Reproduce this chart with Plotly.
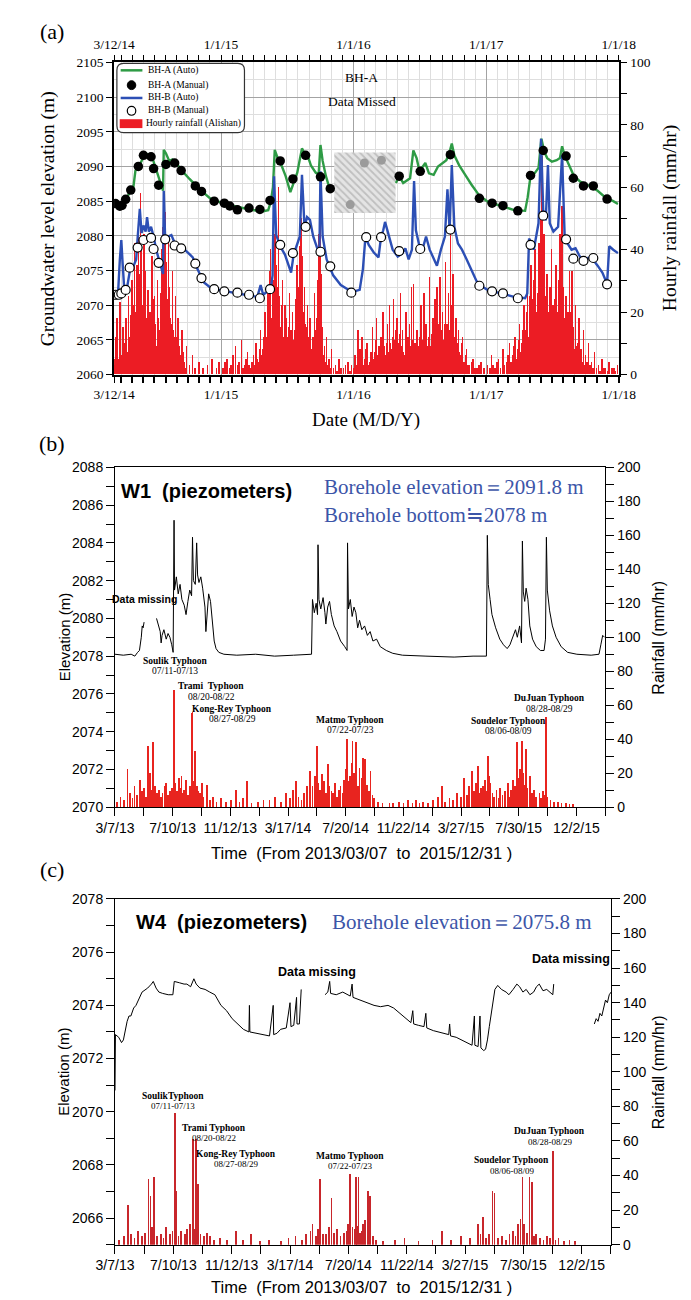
import pandas as pd
import plotly.graph_objects as go

W, H = 691, 1300
SERIF = "Liberation Serif, Times New Roman, serif"
SANS = "Liberation Sans, Arial, sans-serif"


def px(x):
    return x / W


def py(y):
    return 1 - y / H


# ===================== DATA =====================
# ---- panel (a): BH-A / BH-B, days counted from 2014-03-12 ----
A_START, A_END = "2014-03-12", "2018-01-01"
a_tick_dates = ["2014-03-12", "2015-01-01", "2016-01-01", "2017-01-01", "2018-01-01"]
a_tick_text = ["3/12/14", "1/1/15", "1/1/16", "1/1/17", "1/1/18"]

bha_auto = [(9, 2084.65), (22, 2084.5), (32, 2085.3), (43, 2086.2), (52, 2086.5), (59, 2089.4), (67, 2089.9),
            (74, 2090.5), (81, 2091.3), (91, 2091.8), (100, 2091.7), (109, 2090.7), (120, 2088.9), (130, 2087.2),
            (135, 2086.5), (137, 2092.4), (143, 2091.9), (152, 2090.8), (161, 2091.0), (174, 2090.3), (187, 2089.4),
            (208, 2088.2), (234, 2086.8), (265, 2085.4), (304, 2084.6), (339, 2084.2), (373, 2083.8), (408, 2083.5),
            (425, 2083.7), (432, 2084.9), (438, 2087.0), (443, 2092.4), (451, 2091.2), (462, 2090.1), (473, 2088.6),
            (486, 2086.3), (495, 2087.7), (505, 2089.1), (512, 2091.0), (518, 2092.6), (525, 2091.9), (534, 2091.5),
            (543, 2090.1), (556, 2089.1), (564, 2088.9), (569, 2093.1), (575, 2090.8), (584, 2088.6), (592, 2087.2),
            (597, 2086.8), (690, None), (777, 2087.6), (786, 2088.6), (797, 2087.6), (808, 2088.0), (816, 2088.3),
            (825, 2092.3), (834, 2091.2), (842, 2089.3), (851, 2090.0), (858, 2090.5), (868, 2089.0), (881, 2088.8),
            (893, 2090.0), (905, 2090.5), (916, 2090.9), (925, 2092.1), (931, 2093.3), (938, 2091.6), (951, 2090.2),
            (968, 2088.8), (985, 2087.4), (1007, 2085.8), (1033, 2084.8), (1068, 2084.3), (1103, 2083.7),
            (1133, 2083.6), (1140, 2085.5), (1148, 2088.6), (1159, 2089.0), (1170, 2089.8), (1178, 2094.0),
            (1186, 2092.1), (1194, 2091.2), (1207, 2090.7), (1220, 2090.9), (1229, 2091.2), (1235, 2092.9),
            (1242, 2091.6), (1255, 2090.0), (1268, 2088.6), (1285, 2087.8), (1311, 2087.2), (1333, 2086.5),
            (1355, 2085.5), (1376, 2085.0), (1389, 2084.6)]

bha_manual = [(4, 2084.65), (16, 2084.27), (22, 2084.4), (32, 2085.26), (46, 2086.6), (67, 2090.0), (81, 2091.6),
              (102, 2091.4), (109, 2089.7), (123, 2087.3), (143, 2090.3), (167, 2090.5), (185, 2089.4),
              (224, 2087.2), (241, 2086.4), (276, 2085.0), (304, 2084.7), (319, 2084.3), (340, 2083.75),
              (372, 2084.0), (402, 2083.8), (430, 2085.1), (458, 2090.8), (493, 2088.2), (528, 2091.6),
              (569, 2088.5), (596, 2086.8), (786, 2088.6), (844, 2089.3), (927, 2091.7), (1007, 2085.4),
              (1042, 2084.7), (1072, 2084.35), (1113, 2083.6), (1148, 2088.7), (1183, 2092.3), (1246, 2091.5),
              (1266, 2088.3), (1294, 2087.2), (1321, 2087.2), (1359, 2085.3)]

bha_missing_manual = [(651, 2084.5), (690, 2090.5), (737, 2090.9)]
bha_missing_period = ("2015-11-09", "2016-04-26")
bha_missing_band = (2083.3, 2092.0)

bhb_auto = [(4, 2071.5), (11, 2071.7), (16, 2076.6), (20, 2079.4), (23, 2076.6), (28, 2072.4), (36, 2072.6),
            (45, 2075.4), (54, 2075.7), (61, 2076.6), (65, 2079.7), (71, 2083.9), (76, 2080.4), (81, 2081.5),
            (87, 2080.6), (91, 2082.7), (96, 2080.6), (102, 2081.3), (109, 2079.9), (117, 2077.8), (126, 2076.2),
            (135, 2074.5), (137, 2086.5), (141, 2079.4), (149, 2079.9), (158, 2080.1), (167, 2079.0),
            (176, 2078.5), (187, 2078.4), (200, 2077.8), (217, 2076.9), (230, 2075.2), (247, 2073.3),
            (269, 2072.4), (304, 2072.0), (339, 2071.7), (373, 2071.4), (395, 2071.2), (404, 2072.9),
            (411, 2071.5), (421, 2071.9), (432, 2072.4), (437, 2074.3), (441, 2088.6), (447, 2080.1),
            (458, 2078.5), (471, 2077.3), (482, 2075.7), (488, 2074.7), (495, 2077.3), (505, 2079.0),
            (512, 2079.9), (518, 2088.8), (525, 2081.3), (532, 2082.7), (540, 2082.3), (549, 2079.9),
            (560, 2078.0), (566, 2077.3), (569, 2089.3), (575, 2079.9), (586, 2076.6), (604, 2074.3),
            (625, 2072.9), (656, 2071.9), (677, 2072.2), (686, 2075.2), (693, 2079.9), (702, 2078.7),
            (716, 2077.6), (729, 2076.9), (736, 2079.9), (742, 2080.8), (747, 2082.0), (754, 2080.6),
            (768, 2078.0), (782, 2077.0), (795, 2077.5), (803, 2078.2), (812, 2076.6), (821, 2078.0),
            (827, 2087.9), (832, 2080.8), (841, 2078.7), (849, 2077.8), (860, 2079.9), (870, 2078.0),
            (881, 2076.6), (890, 2075.7), (901, 2078.0), (912, 2079.9), (919, 2086.7), (925, 2080.8),
            (931, 2090.2), (938, 2081.3), (948, 2078.9), (959, 2078.0), (972, 2076.6), (985, 2075.2),
            (999, 2073.5), (1007, 2072.9), (1033, 2072.1), (1068, 2071.7), (1103, 2071.2), (1133, 2071.0),
            (1139, 2071.7), (1144, 2079.6), (1151, 2078.9), (1157, 2078.0), (1164, 2080.3), (1170, 2081.8),
            (1177, 2094.0), (1183, 2083.6), (1190, 2082.2), (1196, 2090.2), (1201, 2081.8), (1211, 2080.6),
            (1224, 2081.3), (1235, 2091.6), (1242, 2080.1), (1250, 2078.9), (1261, 2078.0), (1272, 2078.2),
            (1281, 2077.3), (1294, 2076.1), (1307, 2076.8), (1321, 2076.5), (1333, 2075.7), (1346, 2074.7),
            (1359, 2073.1), (1365, 2078.5), (1376, 2078.0), (1389, 2077.5)]

bhb_manual = [(4, 2071.5), (13, 2071.5), (20, 2071.7), (32, 2072.2), (43, 2075.4), (65, 2078.3), (81, 2079.4),
              (102, 2079.7), (109, 2078.1), (123, 2076.1), (141, 2079.5), (167, 2078.6), (185, 2078.2),
              (224, 2076.0), (241, 2073.9), (276, 2072.3), (304, 2072.0), (340, 2071.8), (372, 2071.5),
              (402, 2071.0), (430, 2072.3), (458, 2078.7), (493, 2077.5), (528, 2081.3), (569, 2077.7),
              (596, 2075.6), (654, 2071.8), (695, 2079.8), (736, 2079.8), (786, 2077.8), (844, 2078.1),
              (927, 2080.9), (1007, 2072.8), (1042, 2072.0), (1072, 2071.7), (1113, 2071.0), (1148, 2078.7),
              (1183, 2082.9), (1246, 2079.5), (1266, 2076.7), (1294, 2076.4), (1321, 2076.8), (1359, 2073.0)]

# hourly rainfall at Alishan (mm/hr), days from 2014-03-12
rain_a_2014 = [(0, 3), (2, 5), (4, 8), (6, 12), (8, 18), (10, 4), (12, 5), (15, 9), (17, 23), (19, 6), (22, 4),
               (25, 15), (27, 10), (29, 3), (31, 6), (33, 18), (35, 14), (38, 7), (40, 25), (42, 12), (44, 8),
               (47, 19), (49, 30), (51, 6), (53, 12), (55, 22), (57, 42), (59, 15), (60, 20), (62, 26), (64, 35),
               (66, 18), (67, 50), (69, 32), (70, 28), (72, 14), (73, 58), (75, 24), (76, 40), (78, 12), (79, 22),
               (81, 30), (82, 45), (84, 16), (86, 33), (88, 10), (90, 18), (92, 14), (94, 27), (96, 20), (98, 12),
               (100, 8), (101, 20), (103, 11), (105, 38), (107, 24), (108, 15), (110, 9), (112, 25), (114, 16),
               (116, 9), (118, 6), (120, 30), (122, 18), (124, 14), (126, 8), (128, 22), (130, 26), (132, 40),
               (134, 18), (135, 47), (137, 22), (138, 30), (140, 14), (141, 52), (143, 28), (144, 36), (146, 12),
               (147, 20), (149, 24), (150, 44), (152, 10), (153, 28), (155, 18), (157, 16), (159, 8), (161, 33),
               (163, 14), (165, 12), (167, 6), (169, 25), (171, 12), (173, 8), (175, 5), (177, 18), (180, 9),
               (182, 6), (185, 3), (187, 14), (190, 7), (193, 4), (196, 2), (200, 9), (208, 3), (216, 6), (224, 2),
               (235, 4), (246, 2), (258, 3), (270, 5), (282, 2), (290, 4)]
rain_a_2015 = [(300, 2), (306, 4), (312, 5), (318, 2), (322, 3), (328, 6), (335, 9), (340, 3), (345, 4), (352, 11),
               (356, 2), (360, 3), (364, 5), (368, 7), (372, 3), (376, 2), (380, 4), (384, 6), (388, 3), (392, 10),
               (395, 5), (398, 4), (401, 8), (404, 14), (407, 6), (410, 8), (413, 12), (416, 20), (419, 9),
               (421, 12), (423, 16), (425, 26), (427, 10), (429, 33), (431, 18), (432, 40), (434, 12), (435, 18),
               (437, 24), (438, 30), (440, 14), (441, 22), (443, 28), (444, 45), (446, 16), (447, 35), (449, 20),
               (450, 28), (452, 12), (453, 60), (455, 18), (456, 25), (458, 10), (460, 15), (462, 22), (464, 30),
               (466, 9), (468, 12), (470, 17), (472, 22), (474, 8), (476, 18), (478, 12), (480, 10), (482, 15),
               (484, 26), (486, 9), (488, 14), (490, 7), (492, 20), (494, 11), (496, 8), (498, 14), (500, 24),
               (502, 16), (504, 35), (506, 20), (508, 12), (510, 28), (512, 41), (514, 22), (515, 50), (517, 30),
               (518, 38), (520, 15), (521, 20), (523, 12), (525, 28), (527, 16), (529, 15), (531, 9), (533, 22),
               (535, 12), (537, 10), (539, 6), (541, 18), (543, 8), (545, 7), (547, 11), (549, 12), (551, 6),
               (553, 26), (555, 10), (557, 14), (559, 18), (561, 30), (563, 20), (565, 45), (567, 24), (568, 58),
               (570, 20), (571, 32), (573, 12), (575, 15), (578, 6), (580, 9), (583, 4), (586, 12), (590, 3),
               (592, 5), (596, 2), (600, 8), (605, 2), (610, 3), (615, 1), (620, 5), (626, 2), (632, 2), (638, 3),
               (645, 4), (650, 1), (655, 3)]
rain_a_2016 = [(662, 2), (665, 6), (668, 3), (672, 14), (675, 5), (678, 8), (681, 4), (684, 12), (687, 3), (690, 5),
               (694, 8), (697, 10), (700, 3), (704, 4), (708, 7), (712, 15), (715, 5), (718, 7), (721, 11),
               (724, 18), (727, 6), (730, 9), (733, 5), (736, 12), (739, 8), (742, 20), (745, 9), (748, 6),
               (751, 10), (754, 16), (757, 7), (760, 22), (762, 10), (765, 8), (768, 12), (770, 24), (772, 7),
               (775, 11), (778, 14), (780, 18), (782, 6), (785, 10), (788, 13), (790, 26), (792, 9), (795, 14),
               (798, 7), (800, 6), (803, 11), (805, 20), (807, 8), (810, 12), (813, 6), (815, 16), (818, 9),
               (820, 28), (823, 11), (826, 29), (828, 8), (830, 10), (833, 5), (835, 14), (838, 9), (840, 7),
               (843, 12), (846, 22), (848, 7), (850, 11), (853, 14), (855, 26), (858, 9), (860, 16), (863, 6),
               (865, 9), (868, 12), (870, 31), (872, 9), (875, 13), (878, 7), (880, 18), (883, 11), (885, 24),
               (888, 8), (890, 28), (892, 12), (894, 10), (896, 16), (898, 31), (900, 9), (902, 14), (904, 7),
               (906, 20), (908, 11), (910, 8), (912, 16), (914, 36), (916, 12), (918, 16), (920, 9), (922, 26),
               (924, 14), (927, 47), (929, 18), (930, 22), (932, 11), (934, 32), (936, 14), (938, 12), (940, 7),
               (942, 18), (944, 9), (946, 10), (948, 6), (950, 14), (952, 7), (955, 6), (958, 10), (960, 12),
               (963, 4), (966, 4), (969, 6), (972, 8), (976, 3), (980, 3), (985, 4), (990, 5), (995, 2),
               (1000, 2), (1006, 3), (1012, 4), (1018, 1), (1020, 2)]
rain_a_2017 = [(1030, 3), (1036, 2), (1040, 6), (1045, 3), (1050, 2), (1055, 4), (1060, 5), (1066, 2), (1072, 8),
               (1077, 3), (1082, 4), (1086, 6), (1090, 10), (1094, 4), (1098, 6), (1102, 9), (1106, 12), (1109, 5),
               (1112, 8), (1115, 11), (1118, 16), (1121, 7), (1124, 10), (1127, 14), (1130, 22), (1132, 9),
               (1135, 14), (1137, 20), (1140, 28), (1142, 12), (1145, 18), (1147, 25), (1150, 35), (1152, 15),
               (1155, 24), (1157, 30), (1160, 40), (1162, 18), (1165, 20), (1167, 26), (1170, 30), (1172, 42),
               (1175, 50), (1177, 30), (1178, 62), (1179, 45), (1180, 70), (1182, 28), (1183, 38), (1185, 22),
               (1186, 45), (1188, 18), (1190, 25), (1192, 14), (1194, 32), (1196, 20), (1198, 18), (1200, 12),
               (1202, 28), (1204, 16), (1206, 40), (1208, 20), (1210, 22), (1212, 10), (1214, 15), (1216, 24),
               (1218, 35), (1220, 14), (1222, 20), (1224, 12), (1226, 30), (1228, 18), (1230, 45), (1232, 22),
               (1235, 54), (1237, 20), (1238, 28), (1240, 12), (1242, 18), (1244, 9), (1246, 25), (1248, 14),
               (1250, 12), (1252, 20), (1255, 33), (1257, 12), (1260, 20), (1262, 14), (1263, 33), (1265, 10),
               (1267, 15), (1270, 8), (1272, 22), (1275, 9), (1277, 10), (1280, 6), (1282, 18), (1285, 5),
               (1288, 8), (1291, 4), (1294, 14), (1297, 3), (1300, 6), (1304, 4), (1308, 10), (1312, 3), (1316, 4),
               (1320, 2), (1325, 7), (1330, 2), (1335, 3), (1340, 1), (1345, 5), (1350, 2), (1355, 2), (1360, 1),
               (1365, 4), (1372, 2), (1378, 2), (1383, 1), (1388, 3)]

# ---- panels (b) and (c): W1 / W4, days counted from 2013-03-07 ----
B_START, B_END = "2013-03-07", "2016-02-03"
bc_tick_text = ["3/7/13", "7/10/13", "11/12/13", "3/17/14", "7/20/14", "11/22/14", "3/27/15", "7/30/15", "12/2/15"]

w1_level = [(0, 2078.1), (18, 2078.05), (35, 2078.1), (43, 2078.0), (49, 2078.2), (53, 2078.3), (57, 2079.0),
            (59, 2079.6), (61, 2079.5), (63, 2079.8), (76, None), (90, 2080.0), (94, 2079.6), (98, 2079.3),
            (100, 2078.7), (102, 2079.1), (106, 2079.4), (111, 2078.9), (115, 2079.2), (119, 2079.0),
            (123, 2078.6), (126, 2078.2), (128, 2085.2), (129, 2081.5), (133, 2082.2), (137, 2081.3),
            (141, 2081.8), (145, 2081.0), (150, 2080.7), (154, 2080.2), (158, 2080.9), (162, 2081.5),
            (166, 2081.2), (168, 2084.3), (170, 2082.0), (174, 2081.8), (177, 2084.0), (179, 2082.3),
            (182, 2081.9), (186, 2082.2), (190, 2081.6), (195, 2080.6), (197, 2079.3), (199, 2080.2),
            (203, 2081.3), (207, 2080.9), (211, 2079.8), (215, 2078.8), (219, 2078.4), (225, 2078.2),
            (236, 2078.1), (264, 2078.05), (305, 2078.1), (346, 2078.0), (387, 2078.05), (426, 2078.1),
            (428, 2081.0), (432, 2080.3), (436, 2080.8), (439, 2080.2), (440, 2083.9), (442, 2081.0),
            (446, 2080.5), (451, 2081.1), (455, 2080.3), (457, 2079.7), (461, 2080.6), (465, 2080.9),
            (469, 2080.2), (475, 2079.6), (481, 2079.3), (489, 2078.8), (498, 2078.5), (503, 2078.3),
            (504, 2084.0), (506, 2080.5), (510, 2081.0), (514, 2080.1), (518, 2080.6), (522, 2080.3),
            (526, 2079.5), (530, 2079.9), (535, 2079.4), (541, 2079.6), (547, 2079.1), (553, 2079.3),
            (559, 2078.8), (567, 2078.9), (575, 2078.5), (588, 2078.3), (602, 2078.15), (623, 2078.05),
            (674, 2078.0), (735, 2077.95), (776, 2078.0), (805, 2078.0), (807, 2084.4), (809, 2081.8),
            (813, 2081.0), (817, 2080.2), (825, 2079.5), (834, 2078.9), (842, 2078.6), (850, 2078.4),
            (856, 2078.6), (862, 2079.0), (868, 2079.4), (872, 2079.0), (877, 2079.6), (881, 2078.7),
            (883, 2084.1), (885, 2081.4), (888, 2080.9), (891, 2081.6), (895, 2081.0), (899, 2079.6),
            (905, 2078.9), (913, 2078.5), (922, 2078.3), (930, 2078.3), (933, 2078.9), (935, 2084.3),
            (937, 2081.5), (942, 2080.4), (948, 2079.6), (956, 2079.0), (967, 2078.5), (981, 2078.2),
            (1001, 2078.1), (1032, 2078.05), (1049, 2078.1), (1053, 2078.6), (1057, 2079.1), (1061, 2079.0)]

rain_b = [(5, 3), (12, 6), (20, 4), (27, 22), (33, 8), (38, 5), (42, 12), (47, 7), (54, 16), (58, 9), (63, 11),
          (67, 6), (71, 36), (74, 14), (76, 20), (80, 10), (83, 38), (87, 12), (91, 8), (95, 10), (99, 6), (103, 8),
          (107, 12), (111, 14), (115, 7), (119, 9), (123, 11), (128, 69), (131, 14), (135, 9), (138, 17), (141, 11),
          (144, 18), (147, 8), (150, 10), (154, 16), (158, 7), (162, 12), (166, 55), (168, 56), (171, 15),
          (174, 33), (177, 12), (180, 9), (184, 8), (188, 14), (192, 6), (199, 13), (206, 4), (213, 6), (220, 3),
          (229, 5), (240, 3), (252, 4), (262, 10), (270, 3), (278, 5), (286, 15), (296, 2),
          (310, 3), (322, 4), (335, 4), (347, 6), (359, 3), (370, 8), (379, 5), (386, 10), (392, 15), (398, 6),
          (404, 4), (410, 8), (416, 12), (423, 21), (428, 12), (433, 18), (438, 36), (441, 14), (444, 10),
          (448, 19), (453, 15), (457, 8), (461, 25), (465, 12), (469, 9), (473, 8), (477, 14), (481, 6), (485, 10),
          (489, 12), (493, 8), (497, 16), (500, 22), (503, 40), (506, 15), (510, 18), (513, 26), (515, 39),
          (518, 20), (521, 14), (523, 38), (526, 12), (530, 23), (534, 17), (538, 29), (542, 28), (546, 13),
          (550, 9), (554, 21), (558, 7), (562, 5), (570, 3), (580, 2), (595, 2), (603, 2), (615, 3), (625, 2),
          (635, 4), (645, 2), (652, 4), (660, 2),
          (668, 3), (678, 2), (690, 4), (700, 6), (709, 12), (716, 3), (725, 5), (733, 4), (742, 8), (750, 6),
          (757, 17), (763, 7), (768, 12), (773, 21), (778, 9), (782, 14), (786, 24), (790, 8), (794, 11),
          (798, 12), (802, 16), (805, 9), (808, 30), (811, 18), (814, 14), (818, 8), (822, 6), (827, 10), (831, 5),
          (835, 11), (840, 7), (845, 9), (851, 14), (855, 6), (859, 10), (863, 16), (867, 12), (871, 38),
          (874, 17), (877, 22), (880, 15), (882, 39), (885, 20), (888, 13), (891, 34), (894, 11), (899, 18),
          (903, 8), (908, 10), (913, 6), (920, 8), (924, 5), (928, 9), (931, 7), (934, 53), (937, 6), (944, 4),
          (952, 3), (960, 3), (968, 2), (977, 2), (985, 1.5), (993, 1.5)]

w4_level = [(0, 2070.8), (1, 2072.9), (8, 2072.8), (14, 2072.6), (18, 2072.7), (22, 2073.1), (26, 2073.4),
            (30, 2073.6), (34, 2073.6), (40, 2073.9), (45, 2074.0), (58, 2074.5), (70, 2074.65), (78, 2074.8),
            (82, 2074.9), (88, 2074.65), (94, 2074.5), (102, 2074.45), (114, 2074.4), (124, 2074.4),
            (127, 2074.9), (138, 2074.85), (148, 2074.8), (154, 2074.8), (162, 2074.7), (169, 2075.0),
            (174, 2074.8), (182, 2074.65), (193, 2074.6), (203, 2074.5), (214, 2074.4), (227, 2074.0),
            (239, 2073.8), (251, 2073.5), (263, 2073.3), (275, 2073.1), (287, 2073.0), (288, 2074.0),
            (289, 2073.0), (303, 2072.95), (319, 2072.9), (331, 2072.85), (339, 2074.0), (340, 2072.9),
            (347, 2072.95), (355, 2073.1), (367, 2073.15), (375, 2074.1), (377, 2073.2), (383, 2073.25),
            (389, 2074.3), (390, 2073.3), (395, 2073.3), (399, 2074.6), (420, None),
            (450, 2074.4), (456, 2074.5), (460, 2074.9), (462, 2074.45), (474, 2074.4), (488, 2074.5),
            (504, 2074.35), (508, 2074.8), (510, 2074.3), (524, 2074.2), (541, 2074.1), (555, 2074.0),
            (569, 2073.95), (585, 2074.0), (597, 2073.9), (610, 2073.7), (622, 2073.5), (634, 2073.35),
            (638, 2073.8), (640, 2073.3), (650, 2073.25), (662, 2073.2), (666, 2073.7), (668, 2073.15),
            (682, 2073.05), (695, 2073.0), (703, 2072.95), (715, 2072.9), (717, 2073.3), (719, 2072.85),
            (731, 2072.8), (743, 2072.7), (755, 2072.6), (765, 2072.5), (770, 2073.6), (771, 2072.5),
            (778, 2072.45), (782, 2073.6), (784, 2072.4), (790, 2072.3), (794, 2072.35), (798, 2072.7),
            (802, 2073.2), (806, 2073.7), (810, 2074.1), (814, 2074.6), (820, 2074.75), (828, 2074.6),
            (838, 2074.5), (844, 2074.4), (853, 2074.6), (861, 2074.8), (867, 2074.7), (874, 2074.5),
            (881, 2074.6), (889, 2074.4), (897, 2074.5), (903, 2074.7), (909, 2074.8), (917, 2074.55),
            (925, 2074.6), (932, 2074.5), (938, 2074.4), (940, 2074.8), (980, None),
            (1027, 2073.3), (1031, 2073.5), (1035, 2073.4), (1039, 2073.7), (1043, 2073.6), (1047, 2073.9),
            (1051, 2074.2), (1055, 2074.1), (1059, 2074.4), (1063, 2074.5)]

rain_c = [(8, 3), (20, 5), (28, 23), (35, 6), (42, 4), (50, 8), (58, 5), (65, 7), (72, 38), (76, 28), (80, 10),
          (84, 39), (90, 5), (98, 6), (104, 4), (110, 10), (118, 6), (123, 8), (128, 76), (130, 31), (136, 5),
          (142, 8), (150, 6), (155, 9), (160, 12), (167, 61), (171, 9), (174, 61), (178, 35), (183, 6), (190, 5),
          (197, 7), (203, 5), (212, 3), (225, 4), (240, 3), (259, 8), (275, 3), (291, 6), (310, 2), (330, 3),
          (355, 2), (372, 4), (387, 5), (400, 3), (410, 6), (419, 8), (423, 12), (430, 5), (435, 9), (439, 38),
          (445, 6), (452, 6), (458, 10), (464, 27), (470, 7), (476, 9), (483, 5), (490, 7), (496, 8), (500, 12),
          (504, 41), (509, 10), (513, 9), (516, 39), (519, 11), (522, 39), (525, 7), (528, 8), (532, 12),
          (536, 14), (542, 31), (546, 28), (552, 5), (560, 3), (575, 2), (600, 3), (620, 4), (650, 2), (680, 3),
          (701, 8), (720, 3), (741, 5), (760, 4), (777, 12), (783, 6), (789, 16), (795, 4), (801, 6), (809, 31),
          (813, 30), (820, 4), (829, 5), (838, 3), (845, 6), (853, 8), (858, 5), (863, 12), (869, 15), (873, 39),
          (877, 12), (882, 7), (888, 39), (893, 36), (897, 5), (902, 6), (910, 4), (918, 3), (926, 5), (932, 4),
          (938, 54), (944, 3), (950, 4), (962, 2), (974, 3), (985, 2)]

typhoons_b = [("Soulik Typhoon", "07/11-07/13"), ("Trami\u00a0 Typhoon", "08/20-08/22"),
              ("Kong-Rey Typhoon", "08/27-08/29"), ("Matmo Typhoon", "07/22-07/23"),
              ("Soudelor Typhoon", "08/06-08/09"), ("DuJuan Typhoon", "08/28-08/29")]
typhoons_c = [("SoulikTyphoon", "07/11-07/13"), ("Trami Typhoon", "08/20-08/22"),
              ("Kong-Rey Typhoon", "08/27-08/29"), ("Matmo Typhoon", "07/22-07/23"),
              ("Soudelor Typhoon", "08/06-08/09"), ("DuJuan Typhoon", "08/28-08/29")]


# ===================== HELPERS =====================
def to_dates(start, days):
    t0 = pd.Timestamp(start)
    return [t0 + pd.Timedelta(days=d) for d in days]


def split(pairs):
    return [p[0] for p in pairs], [p[1] for p in pairs]


DAY_MS = 86400000
GREEN = "#2e9b45"
BLUE = "#2c4fb5"
RED = "#ec1c24"
TXTBLUE = "#3c55a8"

fig = go.Figure()

# ---------- panel (a) ----------
rain_a = rain_a_2014 + rain_a_2015 + rain_a_2016 + rain_a_2017
d, v = split(rain_a)
fig.add_trace(go.Bar(x=to_dates(A_START, d), y=v, width=1.5 * DAY_MS, marker=dict(color=RED, line=dict(width=0)),
                     xaxis="x", yaxis="y2", name="Hourly rainfall (Alishan)"))

m0, m1 = bha_missing_period
b0, b1 = bha_missing_band
fig.add_trace(go.Scatter(x=[m0, m1, m1, m0, m0], y=[b0, b0, b1, b1, b0], mode="lines", fill="toself",
                         line=dict(width=0), fillcolor="rgba(0,0,0,0)",
                         fillpattern=dict(shape="\\", fgcolor="#9a9a9a", bgcolor="#e4e4e4", size=5, solidity=0.35),
                         xaxis="x", yaxis="y", hoverinfo="skip"))
d, v = split(bha_missing_manual)
fig.add_trace(go.Scatter(x=to_dates(A_START, d), y=v, mode="markers", marker=dict(size=9, color="#9b9b9b"),
                         xaxis="x", yaxis="y"))

d, v = split(bha_auto)
fig.add_trace(go.Scatter(x=to_dates(A_START, d), y=v, mode="lines", line=dict(color=GREEN, width=2.4),
                         connectgaps=False, xaxis="x", yaxis="y3", name="BH-A (Auto)"))
d, v = split(bhb_auto)
fig.add_trace(go.Scatter(x=to_dates(A_START, d), y=v, mode="lines", line=dict(color=BLUE, width=2.4),
                         xaxis="x", yaxis="y3", name="BH-B (Auto)"))
d, v = split(bha_manual)
fig.add_trace(go.Scatter(x=to_dates(A_START, d), y=v, mode="markers", marker=dict(size=9.5, color="black"),
                         xaxis="x", yaxis="y3", name="BH-A (Manual)"))
d, v = split(bhb_manual)
fig.add_trace(go.Scatter(x=to_dates(A_START, d), y=v, mode="markers",
                         marker=dict(size=9, color="white", line=dict(color="black", width=1.2)),
                         xaxis="x", yaxis="y3", name="BH-B (Manual)"))
# carrier for the top date axis
fig.add_trace(go.Scatter(x=[A_START, A_END], y=[None, None], mode="lines", xaxis="x4", yaxis="y",
                         hoverinfo="skip"))

# ---------- panel (b) ----------
d, v = split(rain_b)
fig.add_trace(go.Bar(x=to_dates(B_START, d), y=v, width=1.6 * DAY_MS, marker=dict(color="#e8241f", line=dict(width=0)),
                     xaxis="x2", yaxis="y5"))
d, v = split(w1_level)
fig.add_trace(go.Scatter(x=to_dates(B_START, d), y=v, mode="lines", line=dict(color="black", width=1),
                         xaxis="x2", yaxis="y4"))

# ---------- panel (c) ----------
d, v = split(rain_c)
fig.add_trace(go.Bar(x=to_dates(B_START, d), y=v, width=1.6 * DAY_MS, marker=dict(color="#c8262b", line=dict(width=0)),
                     xaxis="x3", yaxis="y7"))
d, v = split(w4_level)
fig.add_trace(go.Scatter(x=to_dates(B_START, d), y=v, mode="lines", line=dict(color="black", width=1),
                         xaxis="x3", yaxis="y6"))

# ===================== AXES =====================
bc_tick_dates = [pd.Timestamp(B_START) + pd.Timedelta(days=125 * k) for k in range(len(bc_tick_text))]
bc_minor = [pd.Timestamp(B_START) + pd.Timedelta(days=62.5 * k) for k in range(18)]

serif13 = dict(family=SERIF, size=13.5, color="black")
sans14 = dict(family=SANS, size=14, color="black")

xa_common = dict(type="date", range=[A_START, A_END], tickmode="array", tickvals=a_tick_dates,
                 ticktext=a_tick_text, tickfont=serif13, zeroline=False)
fig.update_layout(
    xaxis=dict(**xa_common, domain=[px(90), px(624)], anchor="y", ticks="outside", ticklen=7, tickwidth=1,
               tickcolor="black", showline=True, linecolor="black", linewidth=1.5,
               showgrid=True, gridcolor="#a3a3a3", gridwidth=1,
               minor=dict(dtick="M1", tick0="2014-01-01", ticks="outside", ticklen=7, tickwidth=2.2,
                          tickcolor="black", showgrid=True, gridcolor="#dedede", gridwidth=1)),
    xaxis4=dict(**xa_common, overlaying="x", side="top", anchor="y", ticks="outside", ticklen=6,
                tickcolor="black", showline=True, linecolor="black", linewidth=1.5, showgrid=False,
                minor=dict(dtick="M1", tick0="2014-01-01", ticks="outside", ticklen=6, tickwidth=1,
                           tickcolor="black", showgrid=False)),
    yaxis=dict(domain=[py(363), py(47)], anchor="x", range=[2060, 2105], dtick=5, tick0=2060,
               ticks="outside", ticklen=6, tickcolor="black", showline=True, linecolor="black", linewidth=1.5,
               showgrid=True, gridcolor="#a3a3a3", gridwidth=1, zeroline=False, tickfont=serif13,
               minor=dict(dtick=2.5, tick0=2060, showgrid=True, gridcolor="#dedede", ticks="")),
    yaxis2=dict(overlaying="y", side="right", anchor="x", range=[0, 100], dtick=20, ticks="outside", ticklen=7,
                tickcolor="black", showline=True, linecolor="black", linewidth=1.5, showgrid=False,
                zeroline=False, tickfont=serif13,
                minor=dict(dtick=10, ticks="outside", ticklen=7, tickcolor="black")),
    yaxis3=dict(overlaying="y", anchor="x", range=[2060, 2105], visible=False),

    xaxis2=dict(type="date", domain=[px(91), px(610)], anchor="y4", range=[B_START, B_END], tickmode="array",
                tickvals=bc_tick_dates, ticktext=bc_tick_text, ticks="outside", ticklen=8, tickcolor="black",
                showline=True, mirror=True, linecolor="black", linewidth=1, showgrid=False, zeroline=False,
                tickfont=sans14,
                minor=dict(tickmode="array", tickvals=bc_minor, ticks="outside", ticklen=8, tickcolor="black")),
    yaxis4=dict(domain=[py(801), py(457)], anchor="x2", range=[2070, 2088], dtick=2, tick0=2070,
                ticks="outside", ticklen=8, tickcolor="black", showline=True, linecolor="black", linewidth=1,
                showgrid=False, zeroline=False, tickfont=sans14,
                minor=dict(dtick=1, ticks="outside", ticklen=8, tickcolor="black")),
    yaxis5=dict(overlaying="y4", side="right", anchor="x2", range=[0, 200], dtick=20, ticks="outside",
                ticklen=8, tickcolor="black", showline=True, linecolor="black", linewidth=1, showgrid=False,
                zeroline=False, tickfont=sans14,
                minor=dict(dtick=10, ticks="outside", ticklen=8, tickcolor="black")),

    xaxis3=dict(type="date", domain=[px(91), px(616)], anchor="y6", range=[B_START, B_END], tickmode="array",
                tickvals=bc_tick_dates, ticktext=bc_tick_text, ticks="outside", ticklen=8, tickcolor="black",
                showline=True, mirror=True, linecolor="black", linewidth=1, showgrid=False, zeroline=False,
                tickfont=sans14,
                minor=dict(tickmode="array", tickvals=bc_minor, ticks="outside", ticklen=8, tickcolor="black")),
    yaxis6=dict(domain=[py(1244), py(894)], anchor="x3", range=[2065, 2078], dtick=2, tick0=2066,
                ticks="outside", ticklen=8, tickcolor="black", showline=True, linecolor="black", linewidth=1,
                showgrid=False, zeroline=False, tickfont=sans14,
                minor=dict(dtick=1, tick0=2065, ticks="outside", ticklen=8, tickcolor="black")),
    yaxis7=dict(overlaying="y6", side="right", anchor="x3", range=[0, 200], dtick=20, ticks="outside",
                ticklen=8, tickcolor="black", showline=True, linecolor="black", linewidth=1, showgrid=False,
                zeroline=False, tickfont=sans14,
                minor=dict(dtick=10, ticks="outside", ticklen=8, tickcolor="black")),
)

# ===================== TEXT =====================
ann = []


def text(s, x, y, size, family=SERIF, color="black", xanchor="center", angle=0, yanchor="middle"):
    ann.append(dict(text=s, x=px(x), y=py(y), xref="paper", yref="paper", showarrow=False, xanchor=xanchor,
                    yanchor=yanchor, textangle=angle, font=dict(family=family, size=size, color=color)))


# panel labels
text("(a)", 24, 16, 22)
text("(b)", 24, 433, 22)
text("(c)", 24, 864, 22)

# panel (a) titles
text("Groundwater level elevation (m)", 21, 205, 19.5, angle=-90)
text("Hourly rainfall (mm/hr)", 679, 205, 19.5, angle=-90)
text("Date (M/D/Y)", 357, 409, 19)
text("BH-A", 352, 62, 13.5)
text("Data Missed", 352, 87, 13.5)

# legend (a)
legend_rows = [("BH-A (Auto)", 55), ("BH-A (Manual)", 70), ("BH-B (Auto)", 83), ("BH-B (Manual)", 96),
               ("Hourly rainfall (Alishan)", 109)]
for i, (lab, yy) in enumerate(legend_rows):
    text(lab, 124 if i < 4 else 122, yy, 9.5, xanchor="left")

# panel (b) texts
text("<b>W1\u00a0\u00a0(piezometers)</b>", 95, 481, 20, family=SANS, xanchor="left")
text("Borehole elevation\uff1d2091.8 m", 310, 477, 21, color=TXTBLUE, xanchor="left")
text("Borehole bottom\u22522078 m", 310, 505, 21, color=TXTBLUE, xanchor="left")
text("<b>Data missing</b>", 122, 590, 10.5, family=SANS)
text("Elevation (m)", 37, 629, 15, family=SANS, angle=-90)
text("Rainfall (mm/hr)", 666, 629, 16, family=SANS, angle=-90)
text("Time\u00a0 (From 2013/03/07\u00a0 to\u00a0 2015/12/31 )", 352, 847, 16.5, family=SANS)

typ_pos_b = [(155, 653, 663), (193, 678, 689), (215, 702, 712), (340, 713, 723), (507, 714, 724), (551, 691, 702)]
for (name, dates), (xx, y1, y2) in zip(typhoons_b, typ_pos_b):
    text("<b>" + name + "</b>", xx, y1, 9.5)
    text(dates, xx, y2, 9.5)

# panel (c) texts
text("<b>W4\u00a0\u00a0(piezometers)</b>", 111, 917, 20, family=SANS, xanchor="left")
text("Borehole elevation\uff1d2075.8 m", 318, 917, 21, color=TXTBLUE, xanchor="left")
text("<b>Data missing</b>", 305, 968, 12.5, family=SANS)
text("<b>Data missing</b>", 574, 955, 12.5, family=SANS)
text("Elevation (m)", 37, 1069, 15, family=SANS, angle=-90)
text("Rainfall (mm/hr)", 666, 1069, 16, family=SANS, angle=-90)
text("Time\u00a0 (From 2013/03/07\u00a0 to\u00a0 2015/12/31 )", 352, 1287, 16.5, family=SANS)

typ_pos_c = [(152, 1093, 1104), (196, 1126, 1136), (219, 1152, 1162), (340, 1154, 1164), (511, 1158, 1169),
             (551, 1129, 1140)]
for (name, dates), (xx, y1, y2) in zip(typhoons_c, typ_pos_c):
    text("<b>" + name + "</b>", xx, y1, 9.5)
    text(dates, xx, y2, 9)


# ===================== SHAPES (legend box) =====================
def rrect(x0, y0, x1, y1, r):
    pts = [("M", x0 + r, y0), ("L", x1 - r, y0), ("Q", x1, y0, x1, y0 + r), ("L", x1, y1 - r),
           ("Q", x1, y1, x1 - r, y1), ("L", x0 + r, y1), ("Q", x0, y1, x0, y1 - r), ("L", x0, y0 + r),
           ("Q", x0, y0, x0 + r, y0)]
    s = ""
    for p in pts:
        coords = p[1:]
        parts = ["%.5f,%.5f" % (px(coords[i]), py(coords[i + 1])) for i in range(0, len(coords), 2)]
        s += p[0] + " " + " ".join(parts) + " "
    return s + "Z"


shapes = [
    dict(type="path", path=rrect(93, 48, 228, 118, 7), xref="paper", yref="paper", fillcolor="white",
         line=dict(color="#333333", width=1.2), layer="above"),
    dict(type="line", x0=px(97), x1=px(120), y0=py(55), y1=py(55), xref="paper", yref="paper",
         line=dict(color=GREEN, width=2.5), layer="above"),
    dict(type="circle", x0=px(104), x1=px(113), y0=py(74.5), y1=py(65.5), xref="paper", yref="paper",
         fillcolor="black", line=dict(color="black", width=1), layer="above"),
    dict(type="line", x0=px(97), x1=px(120), y0=py(83), y1=py(83), xref="paper", yref="paper",
         line=dict(color=BLUE, width=2.5), layer="above"),
    dict(type="circle", x0=px(104), x1=px(113), y0=py(100.5), y1=py(91.5), xref="paper", yref="paper",
         fillcolor="white", line=dict(color="black", width=1.2), layer="above"),
    dict(type="rect", x0=px(96), x1=px(120), y0=py(113.5), y1=py(104.5), xref="paper", yref="paper",
         fillcolor=RED, line=dict(width=0), layer="above"),
]

fig.update_layout(width=W, height=H, margin=dict(l=0, r=0, t=0, b=0), autosize=False,
                  paper_bgcolor="white", plot_bgcolor="white", showlegend=False, bargap=0,
                  annotations=ann, shapes=shapes, hovermode=False)

fig.write_html("out.html")
